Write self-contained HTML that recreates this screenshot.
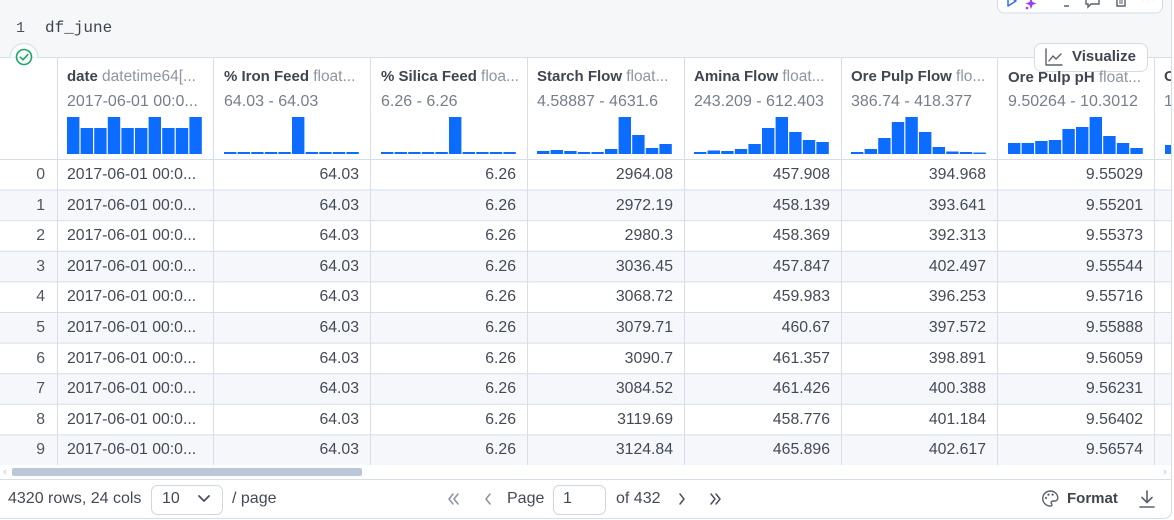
<!DOCTYPE html>
<html><head><meta charset="utf-8"><style>
*{margin:0;padding:0;box-sizing:border-box}
html,body{width:1174px;height:520px;overflow:hidden;background:#fff}
body{position:relative;font-family:"Liberation Sans",Arial,sans-serif;color:#434a56}
.a{position:absolute;white-space:nowrap}
.r{position:absolute;left:0;width:1171px;height:30.6px;line-height:31px;font-size:15.8px}
.r span{position:absolute;top:0;white-space:nowrap}
.i{left:0;width:45px;text-align:right;color:#4f5661}
.d{left:67px}
.c1{left:213px;width:146px;text-align:right}
.c2{left:370px;width:146px;text-align:right}
.c3{left:527px;width:146px;text-align:right}
.c4{left:684px;width:146px;text-align:right}
.c5{left:841px;width:145px;text-align:right}
.c6{left:997px;width:146px;text-align:right}
.h{position:absolute;top:67px;font-size:15px;line-height:20px;white-space:nowrap;color:#3f4551}
.h b{font-weight:bold}
.h i{font-style:normal;color:#8d95a3;font-size:15.5px}
.rg{position:absolute;top:92px;font-size:16px;line-height:20px;white-space:nowrap;color:#767e8b}
.ft{position:absolute;top:489px;font-size:16px;line-height:20px;white-space:nowrap;color:#434a56}
</style></head><body>

<!-- top code area -->
<div class="a" style="left:0;top:0;width:1171px;height:57px;background:#f6f7f9"></div>
<div class="a" style="left:16px;top:20px;font-family:'Liberation Mono',monospace;font-size:15px;color:#4a505b">1</div>
<div class="a" style="left:45px;top:19px;font-family:'Liberation Mono',monospace;font-size:16px;color:#3d4350">df_june</div>

<svg class="a" style="left:0;top:0" width="1174" height="520" viewBox="0 0 1174 520">
  <g fill="#f5f7fa">
    <rect x="0" y="189.6" width="1171" height="30.6"/>
    <rect x="0" y="250.8" width="1171" height="30.6"/>
    <rect x="0" y="312" width="1171" height="30.6"/>
    <rect x="0" y="373.2" width="1171" height="30.6"/>
    <rect x="0" y="434.4" width="1171" height="30.6"/>
  </g>
  <g stroke="#d6dee9" stroke-width="1">
    <line x1="0" y1="57.5" x2="1171" y2="57.5"/>
    <line x1="0" y1="159.5" x2="1171" y2="159.5"/>
    <line x1="0" y1="190" x2="1171" y2="190"/>
    <line x1="0" y1="220.7" x2="1171" y2="220.7"/>
    <line x1="0" y1="251.3" x2="1171" y2="251.3"/>
    <line x1="0" y1="281.9" x2="1171" y2="281.9"/>
    <line x1="0" y1="312.5" x2="1171" y2="312.5"/>
    <line x1="0" y1="343.1" x2="1171" y2="343.1"/>
    <line x1="0" y1="373.7" x2="1171" y2="373.7"/>
    <line x1="0" y1="404.3" x2="1171" y2="404.3"/>
    <line x1="0" y1="434.9" x2="1171" y2="434.9"/>
    <line x1="0" y1="479.5" x2="1171" y2="479.5"/>
  </g>
  <g stroke="#d6dee9" stroke-width="1">
    <line x1="57.5" y1="57" x2="57.5" y2="465"/>
    <line x1="213.5" y1="57" x2="213.5" y2="465"/>
    <line x1="370.5" y1="57" x2="370.5" y2="465"/>
    <line x1="527.5" y1="57" x2="527.5" y2="465"/>
    <line x1="684.5" y1="57" x2="684.5" y2="465"/>
    <line x1="841.5" y1="57" x2="841.5" y2="465"/>
    <line x1="997.5" y1="57" x2="997.5" y2="465"/>
    <line x1="1154.5" y1="57" x2="1154.5" y2="465"/>
  </g>
  <path d="M1171.5 0 V510 Q1171.5 518.5 1163 518.5 H0" fill="none" stroke="#d6dee9" stroke-width="1"/>

  <path d="M10 57.5 A14 14 0 0 1 38 57.5" fill="#fbfcfd" stroke="#d6dee9" stroke-width="1"/>
  <rect x="10.5" y="58" width="27" height="10" fill="#fff"/>
  <circle cx="24" cy="57" r="7.5" fill="none" stroke="#1ca866" stroke-width="1.6"/>
  <polyline points="20.3,57.2 23,59.8 27.8,54.6" fill="none" stroke="#1ca866" stroke-width="1.6" stroke-linecap="round" stroke-linejoin="round"/>

  <g fill="#0b6cff">
    <rect x="67" y="117" width="12.4" height="37"/>
    <rect x="80.6" y="128" width="12.4" height="26"/>
    <rect x="94.2" y="128" width="12.4" height="26"/>
    <rect x="107.8" y="117" width="12.4" height="37"/>
    <rect x="121.4" y="128" width="12.4" height="26"/>
    <rect x="135" y="128" width="12.4" height="26"/>
    <rect x="148.6" y="117" width="12.4" height="37"/>
    <rect x="162.2" y="128" width="12.4" height="26"/>
    <rect x="175.8" y="128" width="12.4" height="26"/>
    <rect x="189.4" y="117" width="12.4" height="37"/>
    <rect x="224" y="152" width="12.4" height="2"/>
    <rect x="237.6" y="152" width="12.4" height="2"/>
    <rect x="251.2" y="152" width="12.4" height="2"/>
    <rect x="264.8" y="152" width="12.4" height="2"/>
    <rect x="278.4" y="152" width="12.4" height="2"/>
    <rect x="292" y="117" width="12.4" height="37"/>
    <rect x="305.6" y="152" width="12.4" height="2"/>
    <rect x="319.2" y="152" width="12.4" height="2"/>
    <rect x="332.8" y="152" width="12.4" height="2"/>
    <rect x="346.4" y="152" width="12.4" height="2"/>
    <rect x="381" y="152" width="12.4" height="2"/>
    <rect x="394.6" y="152" width="12.4" height="2"/>
    <rect x="408.2" y="152" width="12.4" height="2"/>
    <rect x="421.8" y="152" width="12.4" height="2"/>
    <rect x="435.4" y="152" width="12.4" height="2"/>
    <rect x="449" y="117" width="12.4" height="37"/>
    <rect x="462.6" y="152" width="12.4" height="2"/>
    <rect x="476.2" y="152" width="12.4" height="2"/>
    <rect x="489.8" y="152" width="12.4" height="2"/>
    <rect x="503.4" y="152" width="12.4" height="2"/>
    <rect x="537" y="151" width="12.4" height="3"/>
    <rect x="550.6" y="150" width="12.4" height="4"/>
    <rect x="564.2" y="151" width="12.4" height="3"/>
    <rect x="577.8" y="152" width="12.4" height="2"/>
    <rect x="591.4" y="152" width="12.4" height="2"/>
    <rect x="605" y="149" width="12.4" height="5"/>
    <rect x="618.6" y="117" width="12.4" height="37"/>
    <rect x="632.2" y="135" width="12.4" height="19"/>
    <rect x="645.8" y="148" width="12.4" height="6"/>
    <rect x="659.4" y="144" width="12.4" height="10"/>
    <rect x="694" y="152" width="12.4" height="2"/>
    <rect x="707.6" y="150.5" width="12.4" height="3.5"/>
    <rect x="721.2" y="151" width="12.4" height="3"/>
    <rect x="734.8" y="149" width="12.4" height="5"/>
    <rect x="748.4" y="144" width="12.4" height="10"/>
    <rect x="762" y="128" width="12.4" height="26"/>
    <rect x="775.6" y="117" width="12.4" height="37"/>
    <rect x="789.2" y="132" width="12.4" height="22"/>
    <rect x="802.8" y="140" width="12.4" height="14"/>
    <rect x="816.4" y="142" width="12.4" height="12"/>
    <rect x="851" y="152" width="12.4" height="2"/>
    <rect x="864.6" y="149" width="12.4" height="5"/>
    <rect x="878.2" y="138" width="12.4" height="16"/>
    <rect x="891.8" y="122" width="12.4" height="32"/>
    <rect x="905.4" y="117" width="12.4" height="37"/>
    <rect x="919" y="132" width="12.4" height="22"/>
    <rect x="932.6" y="147" width="12.4" height="7"/>
    <rect x="946.2" y="151.5" width="12.4" height="2.5"/>
    <rect x="959.8" y="152" width="12.4" height="2"/>
    <rect x="973.4" y="152.5" width="12.4" height="1.5"/>
    <rect x="1008" y="143" width="12.4" height="11"/>
    <rect x="1021.6" y="143" width="12.4" height="11"/>
    <rect x="1035.2" y="141" width="12.4" height="13"/>
    <rect x="1048.8" y="140" width="12.4" height="14"/>
    <rect x="1062.4" y="129" width="12.4" height="25"/>
    <rect x="1076" y="127" width="12.4" height="27"/>
    <rect x="1089.6" y="117" width="12.4" height="37"/>
    <rect x="1103.2" y="136" width="12.4" height="18"/>
    <rect x="1116.8" y="143" width="12.4" height="11"/>
    <rect x="1130.4" y="148" width="12.4" height="6"/>
    <rect x="1165" y="145" width="6" height="9"/>
  </g>

  <rect x="12" y="468" width="350" height="8" rx="2" fill="#b9c7d8"/>
  <polyline points="6,470 4,472 6,474" fill="none" stroke="#c5cdd8" stroke-width="1"/>
  <polyline points="1164,470 1166,472 1164,474" fill="none" stroke="#c5cdd8" stroke-width="1"/>

  <rect x="151.5" y="485.5" width="71" height="29" rx="6" fill="#fff" stroke="#cdd6e2"/>
  <polyline points="199,496 204,501 209,496" fill="none" stroke="#4a515c" stroke-width="1.8" stroke-linecap="round" stroke-linejoin="round"/>
  <rect x="553.5" y="485.5" width="52" height="29" rx="6" fill="#fff" stroke="#cdd6e2"/>

  <g fill="none" stroke="#8a93a2" stroke-width="1.5" stroke-linecap="round" stroke-linejoin="round">
    <polyline points="453,494 449,499 453,504"/>
    <polyline points="458,494 454,499 458,504"/>
    <polyline points="490,494 486,499 490,504"/>
  </g>
  <g fill="none" stroke="#4a515c" stroke-width="1.5" stroke-linecap="round" stroke-linejoin="round">
    <polyline points="680,494 684,499 680,504"/>
    <polyline points="711,494 715,499 711,504"/>
    <polyline points="716,494 720,499 716,504"/>
  </g>

  <g fill="none" stroke="#5a616d" stroke-width="1.4">
    <path d="M1050 491 a7.5 7.5 0 1 0 0.5 15 c1.6 0 1.8 -1.4 1 -2.4 c-0.9 -1.1 -0.2 -2.6 1.3 -2.6 h2 a3 3 0 0 0 3 -3 c0 -3.9 -3.3 -7 -7.8 -7z"/>
  </g>
  <g fill="#5a616d">
    <circle cx="1046" cy="498" r="1.1"/>
    <circle cx="1048.5" cy="494.6" r="1.1"/>
    <circle cx="1052.6" cy="494.6" r="1.1"/>
  </g>
  <g fill="none" stroke="#5a616d" stroke-width="1.6" stroke-linecap="round" stroke-linejoin="round">
    <line x1="1147" y1="491" x2="1147" y2="502"/>
    <polyline points="1142,497.5 1147,502.5 1152,497.5"/>
    <line x1="1140" y1="507" x2="1154" y2="507"/>
  </g>

  <rect x="1034.5" y="43.5" width="113" height="28" rx="7" fill="#fff" stroke="#d3dbe6"/>
  <g fill="none" stroke="#5a616d" stroke-width="1.4" stroke-linecap="round" stroke-linejoin="round">
    <polyline points="1046,49 1046,65 1062,65"/>
    <polyline points="1049,61 1053,56 1056,59 1061,54"/>
  </g>

  <rect x="997.5" y="-10" width="165" height="23" rx="7" fill="#fff" stroke="#d3dbe6"/>
  <path d="M1008 -4 L1016 1 L1008 6 Z" fill="none" stroke="#2f6bff" stroke-width="1.5" stroke-linejoin="round"/>
  <g fill="#9b3ff0">
    <path d="M1031 -2 l1.5 4 l4 1.5 l-4 1.5 l-1.5 4 l-1.5 -4 l-4 -1.5 l4 -1.5z"/>
    <circle cx="1027" cy="8" r="1.3"/>
  </g>
  <line x1="1064" y1="6" x2="1069" y2="6" stroke="#5a616d" stroke-width="1.5"/>
  <path d="M1086 -4 h13 v8 h-8 l-3 3 v-3 h-2 z" fill="none" stroke="#5a616d" stroke-width="1.4"/>
  <path d="M1117 -2 v8 h8 v-8" fill="none" stroke="#5a616d" stroke-width="1.4"/>
  <line x1="1120" y1="0" x2="1120" y2="4" stroke="#5a616d" stroke-width="1"/>
  <line x1="1122" y1="0" x2="1122" y2="4" stroke="#5a616d" stroke-width="1"/>
  <g fill="#9aa1ac"><circle cx="1143" cy="-1" r="1.2"/><circle cx="1148" cy="-1" r="1.2"/><circle cx="1153" cy="-1" r="1.2"/></g>
</svg>

<div class="h" style="left:67px"><b>date</b> <i>datetime64[...</i></div>
<div class="rg" style="left:67px">2017-06-01 00:0...</div>
<div class="h" style="left:224px"><b>% Iron Feed</b> <i>float...</i></div>
<div class="rg" style="left:224px">64.03 - 64.03</div>
<div class="h" style="left:381px"><b>% Silica Feed</b> <i>floa...</i></div>
<div class="rg" style="left:381px">6.26 - 6.26</div>
<div class="h" style="left:537px"><b>Starch Flow</b> <i>float...</i></div>
<div class="rg" style="left:537px">4.58887 - 4631.6</div>
<div class="h" style="left:694px"><b>Amina Flow</b> <i>float...</i></div>
<div class="rg" style="left:694px">243.209 - 612.403</div>
<div class="h" style="left:851px"><b>Ore Pulp Flow</b> <i>flo...</i></div>
<div class="rg" style="left:851px">386.74 - 418.377</div>
<div class="h" style="left:1008px;top:68px"><b>Ore Pulp pH</b> <i>float...</i></div>
<div class="rg" style="left:1008px">9.50264 - 10.3012</div>
<div class="h" style="left:1164px;width:7px;overflow:hidden"><b>O</b></div>
<div class="rg" style="left:1164px;width:7px;overflow:hidden">1.</div>

<div class="a" style="left:1072px;top:48px;font-size:15px;font-weight:bold;color:#3f4551;background:#fff;line-height:18px">Visualize</div>

<div class="r" style="top:159px"><span class="i">0</span><span class="d">2017-06-01 00:0...</span><span class="c1">64.03</span><span class="c2">6.26</span><span class="c3">2964.08</span><span class="c4">457.908</span><span class="c5">394.968</span><span class="c6">9.55029</span></div>
<div class="r" style="top:189.6px"><span class="i">1</span><span class="d">2017-06-01 00:0...</span><span class="c1">64.03</span><span class="c2">6.26</span><span class="c3">2972.19</span><span class="c4">458.139</span><span class="c5">393.641</span><span class="c6">9.55201</span></div>
<div class="r" style="top:220.2px"><span class="i">2</span><span class="d">2017-06-01 00:0...</span><span class="c1">64.03</span><span class="c2">6.26</span><span class="c3">2980.3</span><span class="c4">458.369</span><span class="c5">392.313</span><span class="c6">9.55373</span></div>
<div class="r" style="top:250.8px"><span class="i">3</span><span class="d">2017-06-01 00:0...</span><span class="c1">64.03</span><span class="c2">6.26</span><span class="c3">3036.45</span><span class="c4">457.847</span><span class="c5">402.497</span><span class="c6">9.55544</span></div>
<div class="r" style="top:281.4px"><span class="i">4</span><span class="d">2017-06-01 00:0...</span><span class="c1">64.03</span><span class="c2">6.26</span><span class="c3">3068.72</span><span class="c4">459.983</span><span class="c5">396.253</span><span class="c6">9.55716</span></div>
<div class="r" style="top:312px"><span class="i">5</span><span class="d">2017-06-01 00:0...</span><span class="c1">64.03</span><span class="c2">6.26</span><span class="c3">3079.71</span><span class="c4">460.67</span><span class="c5">397.572</span><span class="c6">9.55888</span></div>
<div class="r" style="top:342.6px"><span class="i">6</span><span class="d">2017-06-01 00:0...</span><span class="c1">64.03</span><span class="c2">6.26</span><span class="c3">3090.7</span><span class="c4">461.357</span><span class="c5">398.891</span><span class="c6">9.56059</span></div>
<div class="r" style="top:373.2px"><span class="i">7</span><span class="d">2017-06-01 00:0...</span><span class="c1">64.03</span><span class="c2">6.26</span><span class="c3">3084.52</span><span class="c4">461.426</span><span class="c5">400.388</span><span class="c6">9.56231</span></div>
<div class="r" style="top:403.8px"><span class="i">8</span><span class="d">2017-06-01 00:0...</span><span class="c1">64.03</span><span class="c2">6.26</span><span class="c3">3119.69</span><span class="c4">458.776</span><span class="c5">401.184</span><span class="c6">9.56402</span></div>
<div class="r" style="top:434.4px"><span class="i">9</span><span class="d">2017-06-01 00:0...</span><span class="c1">64.03</span><span class="c2">6.26</span><span class="c3">3124.84</span><span class="c4">465.896</span><span class="c5">402.617</span><span class="c6">9.56574</span></div>

<div class="ft" style="left:8px">4320 rows, 24 cols</div>
<div class="ft" style="left:162px">10</div>
<div class="ft" style="left:232px">/ page</div>
<div class="ft" style="left:507px">Page</div>
<div class="ft" style="left:563px">1</div>
<div class="ft" style="left:616px">of 432</div>
<div class="ft" style="left:1067px;font-weight:bold;font-size:15px;color:#3f4551">Format</div>

</body></html>
